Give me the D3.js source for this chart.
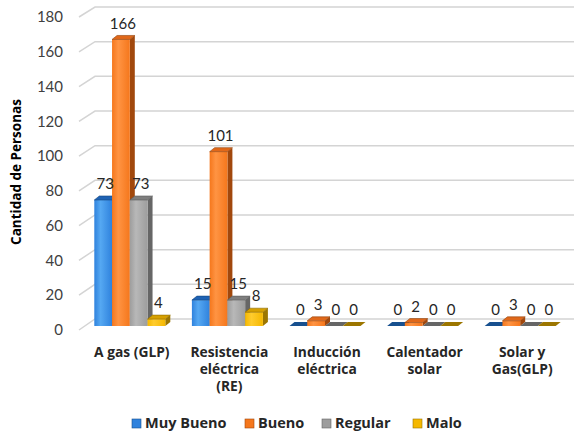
<!DOCTYPE html>
<html>
<head>
<meta charset="utf-8">
<script src="https://cdn.jsdelivr.net/npm/d3@7/dist/d3.min.js"></script>
<style>
  html, body { margin: 0; padding: 0; background: #ffffff; }
  svg { display: block; font-family: Lato, "Open Sans", sans-serif; }
  .bold { font-family: "Open Sans", Lato, sans-serif; font-weight: bold; }
</style>
</head>
<body>
<svg id="chart" width="574" height="435"></svg>
<script>
// Categories (each may wrap to several lines)
const categories = ["A gas (GLP)", "Resistencia eléctrica (RE)", "Inducción eléctrica", "Calentador solar", "Solar y Gas(GLP)"];
const categoryLines = [["A gas (GLP)"], ["Resistencia", "eléctrica", "(RE)"], ["Inducción", "eléctrica"], ["Calentador", "solar"], ["Solar y", "Gas(GLP)"]];

// Series
const seriesNames = ["Muy Bueno", "Bueno", "Regular", "Malo"];
const muyBueno = [73, 15, 0, 0, 0];
const bueno    = [166, 101, 3, 2, 3];
const regular  = [73, 15, 0, 0, 0];
const malo     = [4, 8, 0, 0, 0];
const seriesValues = [muyBueno, bueno, regular, malo];

// Axis ticks
const yTicks = [0, 20, 40, 60, 80, 100, 120, 140, 160, 180];

// Face colours per series: front gradient (light, dark), top, side
const palette = [
  { front: ["#55A8F2", "#2F82DD"], top: "#1E62B4", side: "#17508F" },
  { front: ["#FF9443", "#F5771C"], top: "#E0681A", side: "#A1480D" },
  { front: ["#B8B8B8", "#9D9D9D"], top: "#7E7E7E", side: "#666666" },
  { front: ["#FFCC2E", "#F5B800"], top: "#D6A000", side: "#9C7600" }
];

const svg = d3.select("#chart");
const defs = svg.append("defs");
palette.forEach((p, i) => {
  const g = defs.append("linearGradient").attr("id", "grad" + i)
    .attr("x1", "0").attr("x2", "1").attr("y1", "0").attr("y2", "0");
  g.append("stop").attr("offset", "0%").attr("stop-color", p.front[1]);
  g.append("stop").attr("offset", "35%").attr("stop-color", p.front[0]);
  g.append("stop").attr("offset", "100%").attr("stop-color", p.front[1]);
});

// Depth offsets of the 3D look
const depthX = 5, depthY = -4;
const wallX0 = 79, wallX1 = 95, plotRight = 574;

// Scales: front edge of the axis, back wall, and bar fronts
const yFront = d3.scaleLinear().domain([0, 180]).range([330, 17]);
const yBack  = d3.scaleLinear().domain([0, 180]).range([319, 7]);
const yBar   = d3.scaleLinear().domain([0, 180]).range([326, 15.3]);

const x0 = d3.scaleBand().domain(categories).range([83, 571]);
const groupWidth = 71;
const x1 = d3.scaleBand().domain(seriesNames).range([0, groupWidth]);

// Gridlines: slanted segment on the side wall, then flat across the back wall
const grid = svg.append("g");
yTicks.forEach(t => {
  grid.append("path")
    .attr("d", `M${wallX0},${yFront(t)}L${wallX1},${yBack(t)}L${plotRight},${yBack(t)}`)
    .attr("fill", "none").attr("stroke", "#D4D4D4").attr("stroke-width", 1.5);
});

// Tick labels
svg.append("g").selectAll("text").data(yTicks).join("text")
  .attr("x", 63).attr("y", d => yFront(d))
  .attr("dy", "0.35em").attr("text-anchor", "end")
  .attr("font-size", 15).attr("fill", "#404040")
  .text(d => d);

// Y axis title
svg.append("text").attr("class", "bold")
  .attr("transform", "translate(21,172) rotate(-90)")
  .attr("text-anchor", "middle").attr("font-size", 13.5)
  .attr("fill", "#000")
  .text("Cantidad de Personas");

// Bars
const bars = svg.append("g");
categories.forEach((cat, ci) => {
  const gx = x0(cat) + x0.bandwidth() / 2 - groupWidth / 2 - 2;
  seriesNames.forEach((s, si) => {
    const v = seriesValues[si][ci];
    const xl = gx + x1(s), xr = xl + x1.bandwidth();
    const yt = yBar(v), yb = yBar(0);
    const p = palette[si];
    const g = bars.append("g");
    // side face
    g.append("path")
      .attr("d", `M${xr},${yt}L${xr + depthX},${yt + depthY}L${xr + depthX},${yb + depthY}L${xr},${yb}Z`)
      .attr("fill", p.side);
    // front face
    if (v > 0) {
      g.append("rect").attr("x", xl).attr("y", yt).attr("width", xr - xl).attr("height", yb - yt)
        .attr("fill", `url(#grad${si})`);
    }
    // top face
    g.append("path")
      .attr("d", `M${xl},${yt}L${xl + depthX},${yt + depthY}L${xr + depthX},${yt + depthY}L${xr},${yt}Z`)
      .attr("fill", v > 0 ? p.top : p.side)
      .attr("stroke", v > 0 ? d3.color(p.side).darker(0.3) : "none").attr("stroke-width", 0.6);
  });
});

// Value labels
categories.forEach((cat, ci) => {
  const gx = x0(cat) + x0.bandwidth() / 2 - groupWidth / 2 - 2;
  seriesNames.forEach((s, si) => {
    const v = seriesValues[si][ci];
    svg.append("text")
      .attr("x", gx + x1(s) + x1.bandwidth() / 2 + 2)
      .attr("y", yBar(v) - 16).attr("dy", "0.35em")
      .attr("text-anchor", "middle").attr("font-size", 15).attr("fill", "#262626")
      .text(v);
  });
});

// Category labels
const catG = svg.append("g");
categories.forEach((cat, ci) => {
  const cx = x0(cat) + x0.bandwidth() / 2;
  const t = catG.append("text").attr("class", "bold").attr("text-anchor", "middle")
    .attr("font-size", 13.8).attr("fill", "#262626");
  categoryLines[ci].forEach((line, li) => {
    t.append("tspan").attr("x", cx).attr("y", 352 + li * 17).attr("dy", "0.35em").text(line);
  });
});

// Legend
const legendX = [132, 245, 322, 413];
const legend = svg.append("g");
seriesNames.forEach((s, i) => {
  legend.append("rect").attr("x", legendX[i]).attr("y", 419).attr("width", 9).attr("height", 9)
    .attr("fill", palette[i].front[1]).attr("stroke", palette[i].side).attr("stroke-width", 0.6);
  legend.append("text").attr("class", "bold").attr("x", legendX[i] + 13).attr("y", 423).attr("dy", "0.35em")
    .attr("font-size", 14.5).attr("fill", "#262626").text(s);
});
</script>
</body>
</html>
